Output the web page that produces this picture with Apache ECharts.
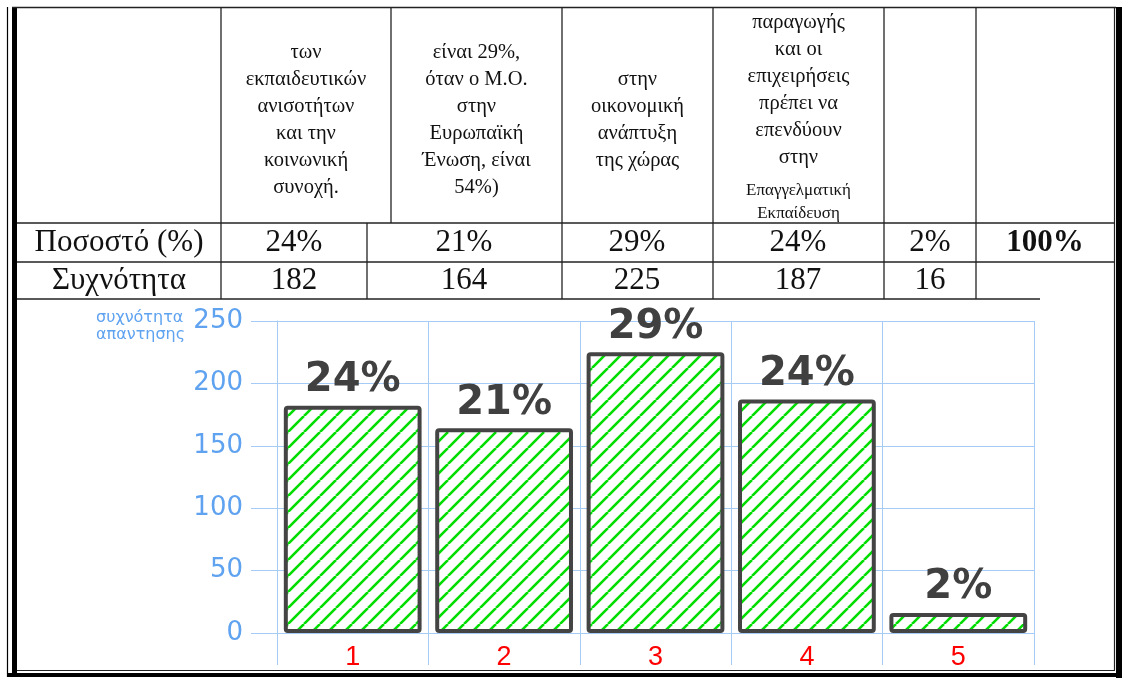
<!DOCTYPE html>
<html>
<head>
<meta charset="utf-8">
<title>Συχνότητα απάντησης</title>
<script src="https://cdn.jsdelivr.net/npm/echarts@6/dist/echarts.min.js"></script>
<style>
  html, body { margin: 0; padding: 0; background: #fff; }
  #chart { width: 1122px; height: 678px; }
</style>
</head>
<body>
<div id="chart"></div>
<script>
// data
const categories = ['1', '2', '3', '4', '5'];
const counts = [182, 164, 225, 187, 16];
const percents = ['24%', '21%', '29%', '24%', '2%'];
const totalPercent = '100%';
const headerTexts = [
  'των\nεκπαιδευτικών\nανισοτήτων\nκαι την\nκοινωνική\nσυνοχή.',
  'είναι 29%,\nόταν ο Μ.Ο.\nστην\nΕυρωπαϊκή\nΈνωση, είναι\n54%)',
  'στην\nοικονομική\nανάπτυξη\nτης χώρας',
  'παραγωγής\nκαι οι\nεπιχειρήσεις\nπρέπει να\nεπενδύουν\nστην'
];
const headerSmall = 'Επαγγελματική\nΕκπαίδευση';
const rowNames = ['Ποσοστό (%)', 'Συχνότητα'];
const yName = ['συχνότητα', 'απαντησης'];

const blue = '#5ea2f0';
const gridBlue = '#a6cbf6';
const serif = '"Liberation Serif", "Times New Roman", serif';

// hatch fill for the bars
function hatch() {
  const c = document.createElement('canvas');
  const s = 16;
  c.width = s; c.height = s;
  const ctx = c.getContext('2d');
  ctx.fillStyle = '#fff';
  ctx.fillRect(0, 0, s, s);
  ctx.strokeStyle = '#00dd00';
  ctx.lineWidth = 2.6;
  for (const o of [-s, 0, s]) {
    ctx.beginPath();
    ctx.moveTo(o, s);
    ctx.lineTo(o + s, 0);
    ctx.stroke();
  }
  return c;
}

// table geometry
const headCols = [221, 391, 562, 713, 884, 976];
const rowCols = [221, 367, 562, 713, 884, 976];
const rowY = [223, 262, 299];
const rowCenters = [294, 464, 637, 798, 930];

const graphics = [];
function line(x1, y1, x2, y2, w, c) {
  graphics.push({ type: 'line', shape: { x1, y1, x2, y2 }, style: { stroke: c || '#222', lineWidth: w || 1.3 }, silent: true });
}
function rect(x, y, width, height) {
  graphics.push({ type: 'rect', shape: { x, y, width, height }, style: { fill: '#000' }, silent: true });
}
function text(t, x, y, font, opts) {
  graphics.push({
    type: 'text', silent: true,
    style: Object.assign({ text: t, x, y, font, fill: '#111', textAlign: 'center', textVerticalAlign: 'middle' }, opts || {})
  });
}

// outer frame
line(7.5, 7, 7.5, 677, 1.2, '#000');
rect(12, 7, 5, 666);
line(12, 7.5, 1116, 7.5, 1.5, '#222');
line(1114.5, 7, 1114.5, 670, 1.2, '#222');
rect(1116, 7, 6, 671);
line(17, 670.5, 1115, 670.5, 1.2, '#222');
rect(7, 673, 1115, 4);

// table grid
line(17, rowY[0], 1114, rowY[0]);
line(17, rowY[1], 1114, rowY[1]);
line(17, rowY[2], 1040, rowY[2]);
headCols.forEach(x => line(x, 7, x, rowY[0]));
rowCols.forEach(x => line(x, rowY[0], x, rowY[2]));

// header texts
for (let i = 0; i < headerTexts.length; i++) {
  const cx = (headCols[i] + headCols[i + 1]) / 2;
  const cy = i < 3 ? 120 : 90;
  text(headerTexts[i], cx, cy, '20.5px ' + serif, { lineHeight: 27 });
}
text(headerSmall, (headCols[3] + headCols[4]) / 2, 202, '17px ' + serif, { lineHeight: 23 });

// row texts
text(rowNames[0], 119, 243, '31px ' + serif);
text(rowNames[1], 119, 281, '31px ' + serif);
percents.forEach((p, i) => text(p, rowCenters[i], 243, '31px ' + serif));
counts.forEach((v, i) => text(String(v), rowCenters[i], 281, '31px ' + serif));
text(totalPercent, 1045, 243, 'bold 31px ' + serif);

// y axis title
text(yName.join('\n'), 96, 326, '16px "DejaVu Sans", sans-serif',
  { fill: blue, textAlign: 'left', lineHeight: 17 });

const chart = echarts.init(document.getElementById('chart'));
chart.setOption({
  animation: false,
  grid: { left: 277, right: 88, top: 321, bottom: 45 },
  xAxis: {
    type: 'category',
    data: categories,
    axisLine: { lineStyle: { color: gridBlue, width: 1 } },
    axisTick: { show: true, length: 32, lineStyle: { color: gridBlue } },
    splitLine: { show: true, lineStyle: { color: gridBlue, width: 1 } },
    axisLabel: { color: '#ff0000', fontSize: 27, margin: 11, fontFamily: '"Liberation Sans", Arial, sans-serif' }
  },
  yAxis: {
    type: 'value',
    min: 0, max: 250, interval: 50,
    axisLine: { show: true, lineStyle: { color: gridBlue } },
    axisTick: { show: true, length: 26, lineStyle: { color: gridBlue } },
    splitLine: { lineStyle: { color: gridBlue, width: 1 } },
    axisLabel: { color: blue, fontSize: 26, margin: 34, fontFamily: '"DejaVu Sans", sans-serif' }
  },
  series: [{
    type: 'bar',
    data: counts,
    barCategoryGap: '9%',
    itemStyle: {
      color: { image: hatch(), repeat: 'repeat' },
      borderColor: '#444',
      borderWidth: 4,
      borderRadius: 2
    },
    label: {
      show: true,
      position: 'top',
      distance: 5,
      formatter: p => percents[p.dataIndex],
      color: '#404040',
      fontSize: 40,
      fontWeight: 'bold',
      fontFamily: '"DejaVu Sans", sans-serif'
    }
  }],
  graphic: graphics
});
</script>
</body>
</html>
